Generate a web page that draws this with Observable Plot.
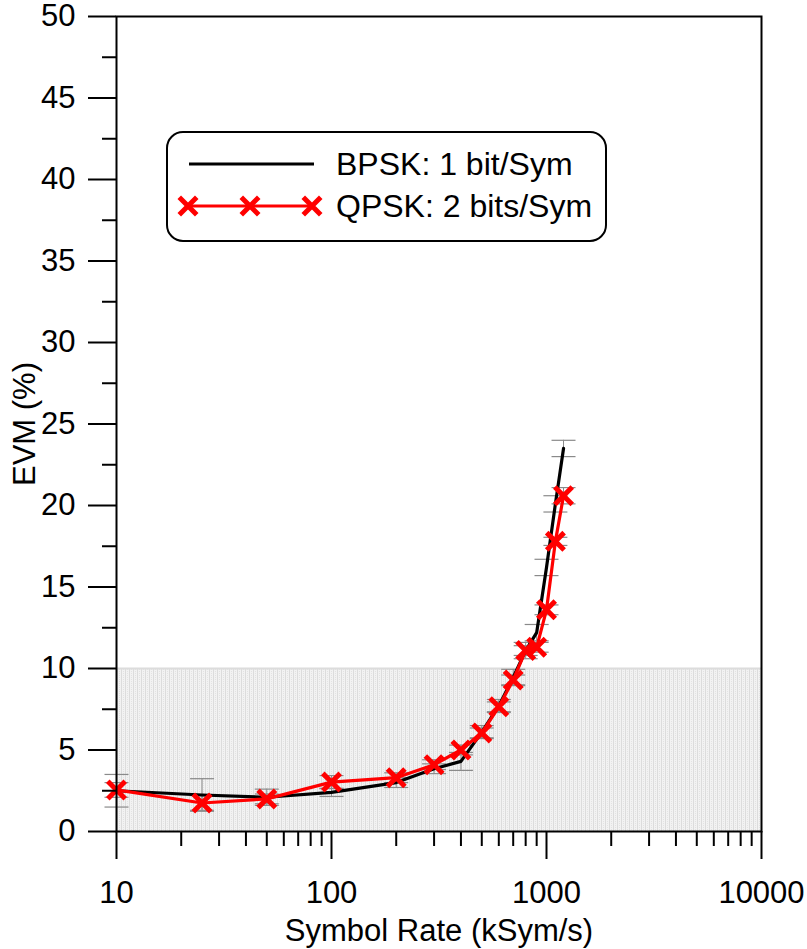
<!DOCTYPE html>
<html>
<head>
<meta charset="utf-8">
<script src="https://cdn.jsdelivr.net/npm/d3@7"></script>
<script src="https://cdn.jsdelivr.net/npm/@observablehq/plot@0.6"></script>
<style>
  html, body { margin: 0; padding: 0; background: white; }
  #wrap { position: relative; width: 807px; height: 949px; }
  #legend { position: absolute; left: 166px; top: 131px; }
  text { font-family: "Liberation Sans", Arial, sans-serif; }
</style>
</head>
<body>
<div id="wrap"></div>
<script>
// ---- data ----
const rates   = [10, 25, 50, 100, 200, 300, 400, 500, 600, 700, 800, 900, 1000, 1100, 1200];
const bpsk    = [2.5, 2.24, 2.1, 2.4, 3.0, 3.85, 4.3, 6.1, 7.7, 9.45, 11.1, 12.2, 16.2, 20.1, 23.5];
const bpskErr = [1.0, 1.0, 0.5, 0.25, 0.3, 0.3, 0.55, 0.4, 0.4, 0.5, 0.5, 0.5, 0.5, 0.5, 0.5];
const qpsk    = [2.55, 1.75, 2.0, 3.03, 3.3, 4.1, 5.0, 6.05, 7.65, 9.3, 11.1, 11.3, 13.6, 17.8, 20.6];
const qpskErr = [0.45, 0.45, 0.3, 0.4, 0.3, 0.3, 0.3, 0.3, 0.3, 0.3, 0.3, 0.3, 0.3, 0.25, 0.5];
const seriesNames = ["BPSK: 1 bit/Sym", "QPSK: 2 bits/Sym"];
const threshold = 10;
const xDomain = [10, 10000];
const yDomain = [0, 50];
const xMajorTicks = [10, 100, 1000, 10000];
const yMajorTicks = [0, 5, 10, 15, 20, 25, 30, 35, 40, 45, 50];
const yMinorTicks = [2.5, 7.5, 12.5, 17.5, 22.5, 27.5, 32.5, 37.5, 42.5, 47.5];
const xMinorTicks = [];
for (const d of [10, 100, 1000]) for (let k = 2; k <= 9; k++) xMinorTicks.push(d * k);
const xLabel = "Symbol Rate (kSym/s)";
const yLabel = "EVM (%)";

const bp = rates.map((r, i) => ({rate: r, v: bpsk[i], lo: bpsk[i] - bpskErr[i], hi: bpsk[i] + bpskErr[i]}));
const qp = rates.map((r, i) => ({rate: r, v: qpsk[i], lo: qpsk[i] - qpskErr[i], hi: qpsk[i] + qpskErr[i]}));
const errs = bp.concat(qp);
const caps = errs.flatMap(d => [{rate: d.rate, e: d.lo}, {rate: d.rate, e: d.hi}]);
const band = [{x1: xDomain[0], x2: xDomain[1], y1: 0, y2: threshold}];

const capSymbol = {draw(ctx) { ctx.moveTo(-12, 0); ctx.lineTo(12, 0); }};
const errColor = "#8a8a8a";
const red = "#ff0000";

const chart = Plot.plot({
  width: 807,
  height: 949,
  marginLeft: 116,
  marginRight: 46,
  marginTop: 16,
  marginBottom: 118,
  x: {type: "log", domain: xDomain, label: null},
  y: {domain: yDomain, label: null},
  style: {fontFamily: "'Liberation Sans', Arial, sans-serif", fontSize: "30px", color: "black", background: "white", overflow: "visible"},
  marks: [
    Plot.rect(band, {x1: "x1", x2: "x2", y1: "y1", y2: "y2", fill: "url(#shade)"}),
    Plot.ruleY([threshold], {stroke: "#dcdcdc", strokeWidth: 2}),
    Plot.ruleX(errs, {x: "rate", y1: "lo", y2: "hi", stroke: errColor, strokeWidth: 1}),
    Plot.dot(caps, {x: "rate", y: "e", symbol: capSymbol, stroke: errColor, strokeWidth: 1.2, r: 5}),
    Plot.line(bp, {x: "rate", y: "v", stroke: "black", strokeWidth: 3.2}),
    Plot.line(qp, {x: "rate", y: "v", stroke: red, strokeWidth: 3.2}),
    Plot.dot(qp, {x: "rate", y: "v", symbol: "times", r: 8, stroke: red, strokeWidth: 5}),
    Plot.frame({stroke: "black", strokeWidth: 2}),
    Plot.axisY(yMajorTicks, {tickSize: 28, tickPadding: 13, strokeWidth: 2, label: yLabel, labelAnchor: "center", labelArrow: "none", labelOffset: 104, fontSize: 31}),
    Plot.axisY(yMinorTicks, {tickSize: 14, strokeWidth: 2, tickFormat: () => "", label: null}),
    Plot.axisX(xMajorTicks, {tickSize: 28, tickPadding: 21, strokeWidth: 2, tickFormat: d => String(d), label: xLabel, labelAnchor: "center", labelArrow: "none", labelOffset: 109, fontSize: 31}),
    Plot.axisX(xMinorTicks, {tickSize: 15, strokeWidth: 2, tickFormat: () => "", label: null})
  ]
});

// shading pattern for the region below the threshold
const svgSel = d3.select(chart);
const defs = svgSel.insert("defs", ":first-child");
const pat = defs.append("pattern").attr("id", "shade").attr("patternUnits", "userSpaceOnUse")
  .attr("width", 4).attr("height", 4);
pat.append("rect").attr("width", 4).attr("height", 4).attr("fill", "#f2f2f2");
pat.append("rect").attr("x", 1).attr("width", 1).attr("height", 4).attr("fill", "#dcdcdc");
pat.append("rect").attr("x", 3).attr("y", 1).attr("width", 1).attr("height", 1).attr("fill", "#e2e2e2");
pat.append("rect").attr("x", 3).attr("y", 3).attr("width", 1).attr("height", 1).attr("fill", "#e2e2e2");

const wrap = document.getElementById("wrap");
wrap.appendChild(chart);

// legend inside the plot area
const lg = d3.select(wrap).append("svg").attr("id", "legend").attr("width", 442).attr("height", 112);
lg.append("rect").attr("x", 1).attr("y", 1).attr("width", 439).attr("height", 109).attr("rx", 16)
  .attr("fill", "white").attr("stroke", "black").attr("stroke-width", 2);
lg.append("line").attr("x1", 23).attr("x2", 148).attr("y1", 33).attr("y2", 33)
  .attr("stroke", "black").attr("stroke-width", 3.2);
lg.append("text").attr("x", 170).attr("y", 44).attr("font-size", 32).text(seriesNames[0]);
lg.append("line").attr("x1", 22).attr("x2", 146).attr("y1", 75).attr("y2", 75)
  .attr("stroke", red).attr("stroke-width", 3.2);
const timesPath = d3.symbol(d3.symbolTimes, Math.PI * 64)();
for (const cx of [22, 84, 146]) {
  lg.append("path").attr("d", timesPath).attr("transform", `translate(${cx},75)`)
    .attr("fill", "none").attr("stroke", red).attr("stroke-width", 5);
}
lg.append("text").attr("x", 170).attr("y", 86).attr("font-size", 32).text(seriesNames[1]);
</script>
</body>
</html>
